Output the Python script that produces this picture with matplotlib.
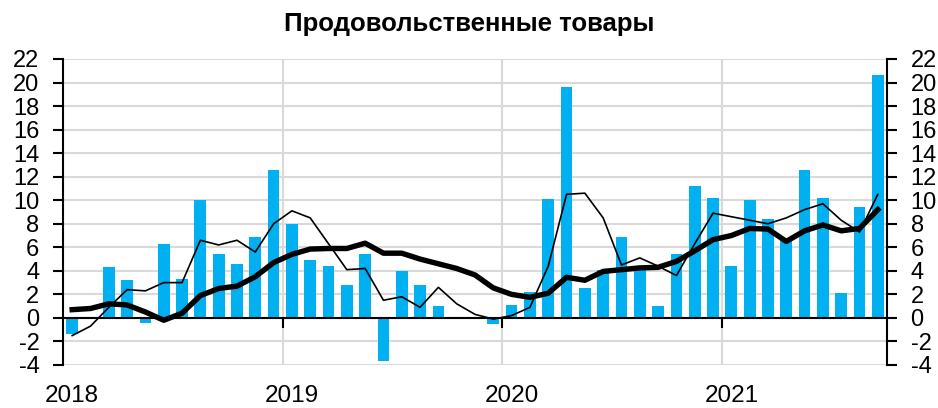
import matplotlib.pyplot as plt
import numpy as np

plt.rcParams['font.family'] = ['Liberation Sans', 'DejaVu Sans']

titulo = 'Продовольственные товары'
anos = ['2018', '2019', '2020', '2021']

# monthly values, Jan 2018 - Sep 2021
barras = [-1.4, -0.1, 4.3, 3.2, -0.4, 6.3, 3.3, 10.0, 5.4, 4.6, 6.9, 12.6,
          8.0, 4.9, 4.4, 2.8, 5.4, -3.7, 4.0, 2.8, 1.0, 0.05, 0.0, -0.5,
          1.1, 2.2, 10.1, 19.6, 2.5, 4.1, 6.9, 4.1, 1.0, 5.4, 11.2, 10.2,
          4.4, 10.0, 8.4, 6.6, 12.6, 10.2, 2.1, 9.4, 20.6]

linha_fina = [-1.5, -0.7, 0.9, 2.4, 2.3, 3.0, 3.0, 6.6, 6.2, 6.6, 5.6, 8.0,
              9.1, 8.5, 6.3, 4.1, 4.2, 1.5, 1.8, 0.9, 2.6, 1.2, 0.3, -0.1,
              0.2, 0.9, 4.4, 10.5, 10.6, 8.5, 4.5, 5.1, 4.4, 3.6, 6.3, 8.9,
              8.6, 8.3, 8.0, 8.5, 9.2, 9.7, 8.3, 7.3, 10.5]

linha_grossa = [0.7, 0.8, 1.2, 1.1, 0.5, -0.2, 0.4, 1.9, 2.5, 2.7, 3.5, 4.7,
                5.4, 5.85, 5.9, 5.9, 6.35, 5.5, 5.5, 5.0, 4.6, 4.2, 3.65, 2.55,
                2.0, 1.75, 2.1, 3.45, 3.2, 3.95, 4.1, 4.25, 4.3, 4.8, 5.7, 6.65,
                7.0, 7.6, 7.55, 6.5, 7.4, 7.9, 7.4, 7.6, 9.2]

x = np.arange(len(barras))
limites_ano = [12 * i - 0.5 for i in range(len(anos))]

fig = plt.figure(figsize=(9.38, 4.08), dpi=100)
ax = fig.add_axes([0.0672, 0.1054, 0.8784, 0.75])

ax.bar(x, barras, width=0.64, color='#00b0f0', zorder=2)
ax.plot(x, linha_fina, color='black', linewidth=1.2, zorder=3)
ax.plot(x, linha_grossa, color='black', linewidth=3.9, zorder=4,
        solid_joinstyle='round')

ax.set_xlim(-0.5, len(barras) - 0.5)
ax.set_ylim(-4, 22)
yticks = np.arange(-4, 23, 2)
ax.set_yticks(yticks)
ax.set_yticklabels([str(v) for v in yticks])

for y in yticks:
    ax.axhline(y, color='#d9d9d9', linewidth=1.5, zorder=0)
for xv in limites_ano[1:]:
    ax.axvline(xv, color='#d9d9d9', linewidth=1.5, zorder=0)

ax.spines['top'].set_visible(False)
ax.spines['right'].set_visible(False)
ax.spines['bottom'].set_position(('data', 0))
ax.spines['bottom'].set_linewidth(1.5)
ax.spines['left'].set_linewidth(1.5)
ax.set_xticks(limites_ano[1:])
ax.set_xticklabels([])
ax.tick_params(axis='x', direction='out', length=7, width=1.5)
ax.tick_params(axis='y', direction='out', length=7, width=1.5,
               labelsize=17, pad=10)

ax2 = ax.twinx()
ax2.set_ylim(-4, 22)
ax2.set_yticks(yticks)
ax2.set_yticklabels([str(v) for v in yticks])
for s in ['top', 'left', 'bottom']:
    ax2.spines[s].set_visible(False)
ax2.spines['right'].set_linewidth(1.5)
ax2.tick_params(axis='y', direction='out', length=7, width=1.5,
                labelsize=17, pad=10)

for i, ano in enumerate(anos):
    ax.text(12 * i, -0.1, ano, transform=ax.get_xaxis_transform(),
            ha='center', va='center', fontsize=17.5)

fig.text(0.5, 0.942, titulo, ha='center', va='center', fontsize=18.5,
         fontweight='bold')

fig.savefig('out.png', dpi=100)
